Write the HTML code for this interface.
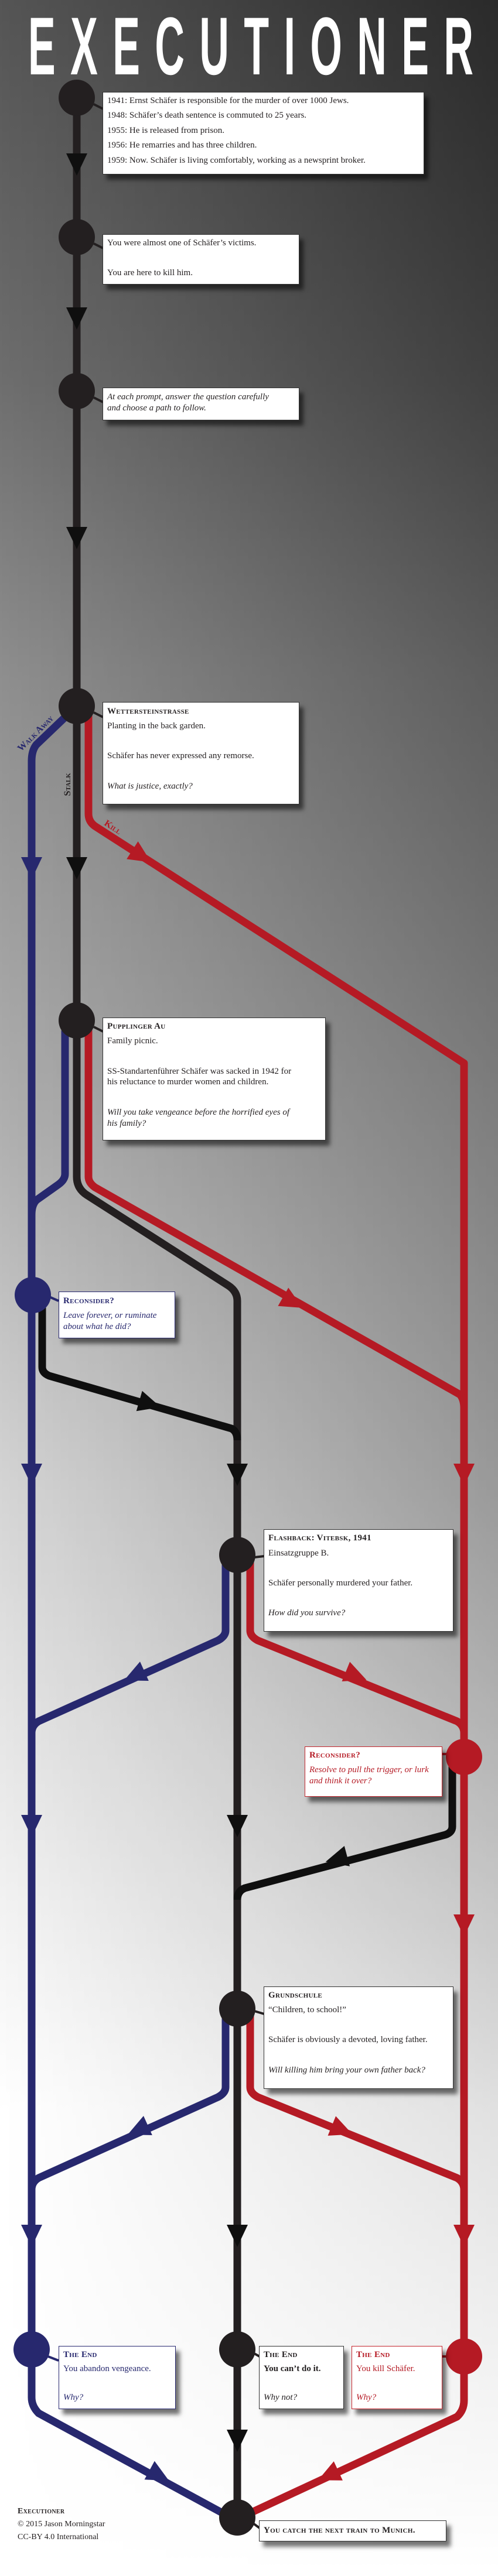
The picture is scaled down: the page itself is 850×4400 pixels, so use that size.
<!DOCTYPE html>
<html><head><meta charset="utf-8"><style>
html,body{margin:0;padding:0;width:850px;height:4400px;overflow:hidden}
body{position:relative;font-family:"Liberation Serif",serif;color:#231f20}
svg{position:absolute;left:0;top:0}
.b{position:absolute;background:#fff;border:1.5px solid #333;box-shadow:7px 9px 7px rgba(0,0,0,.55);box-sizing:border-box}
.b div{position:absolute;left:7px;white-space:nowrap;font-size:15px;line-height:20px}
.h{font-variant:small-caps;font-weight:bold;letter-spacing:.3px}
.i{font-style:italic}
.bl{border-color:#2a2a72;color:#27286e}
.rd{border-color:#c4262e;color:#b51a24}
.cr{position:absolute;left:30px;font-size:14px;line-height:20px;white-space:nowrap}
</style></head><body>
<svg width="850" height="4400" viewBox="0 0 850 4400">
<defs>
<linearGradient id="bg" x1="0" y1="0" x2="0" y2="4400" gradientUnits="userSpaceOnUse">
<stop offset="0" stop-color="#555"/><stop offset="0.148" stop-color="#6e6e6e"/><stop offset="0.26" stop-color="#8e8e8e"/><stop offset="0.44" stop-color="#b0b0b0"/><stop offset="0.58" stop-color="#d5d5d5"/><stop offset="0.74" stop-color="#f2f2f2"/><stop offset="0.82" stop-color="#fff"/><stop offset="1" stop-color="#fff"/>
</linearGradient>
<linearGradient id="hz" x1="0" y1="0" x2="850" y2="0" gradientUnits="userSpaceOnUse">
<stop offset="0" stop-color="#000" stop-opacity="0"/><stop offset="1" stop-color="#000" stop-opacity="0.5"/>
</linearGradient>
<linearGradient id="mg" x1="0" y1="0" x2="0" y2="4400" gradientUnits="userSpaceOnUse">
<stop offset="0" stop-color="#fff"/><stop offset="0.26" stop-color="#b3b3b3"/><stop offset="0.44" stop-color="#8c8c8c"/><stop offset="0.58" stop-color="#8c8c8c"/><stop offset="0.74" stop-color="#595959"/><stop offset="0.89" stop-color="#242424"/><stop offset="1" stop-color="#000"/>
</linearGradient>
<mask id="m"><rect width="850" height="4400" fill="url(#mg)"/></mask>
<polygon id="ar" points="-18,-18 18,-18 0,20"/>
</defs>
<rect width="850" height="4400" fill="url(#bg)"/>
<rect width="850" height="4400" fill="url(#hz)" mask="url(#m)"/>
<text x="96" y="127" transform="scale(0.5,1)" font-family="Liberation Sans, sans-serif" font-weight="bold" font-size="140" fill="#fff" textLength="1520" lengthAdjust="spacing">EXECUTIONER</text>

<g fill="none" stroke-width="13" stroke-linejoin="round">
<path stroke="#27286e" d="M131 1206 L62 1272 Q54 1282 54 1300 V4095 Q54 4110 66 4122 L390 4298"/>
<path stroke="#27286e" d="M111 1760 V2005 Q111 2015 100 2023 L62 2050 Q54 2058 54 2075"/>
<path stroke="#27286e" d="M385 2656 V2785 Q385 2795 372 2802 L66 2940 Q54 2947 54 2960"/>
<path stroke="#27286e" d="M385 3431 V3565 Q385 3575 372 3582 L66 3720 Q54 3727 54 3740"/>
<path stroke="#b51a24" d="M151 1206 V1390 Q151 1405 165 1413 L792 1816 V4100 Q792 4117 780 4128 L415 4298"/>
<path stroke="#b51a24" d="M151 1743 V2010 Q151 2020 162 2028 L785 2382 Q792 2390 792 2405"/>
<path stroke="#b51a24" d="M427 2656 V2785 Q427 2795 440 2802 L780 2940 Q792 2947 792 2960"/>
<path stroke="#b51a24" d="M427 3431 V3565 Q427 3575 440 3582 L780 3720 Q792 3727 792 3740"/>
<path stroke="#231f20" d="M131 167 V2010 Q131 2030 148 2041 L390 2196 Q405 2206 405 2222 V4300"/>
<path stroke="#0f0f0f" d="M72 2212 V2335 Q72 2345 84 2350 L395 2440 Q405 2445 405 2460"/>
<path stroke="#0f0f0f" d="M772 3001 V3120 Q772 3130 760 3134 L418 3225 Q405 3230 405 3245"/>
</g>
<g stroke="#231f20" stroke-width="4">
<line x1="160" y1="178" x2="176" y2="186"/>
<line x1="160" y1="416" x2="176" y2="424"/>
<line x1="160" y1="679" x2="176" y2="687"/>
<line x1="160" y1="1217" x2="176" y2="1225"/>
<line x1="160" y1="1754" x2="176" y2="1762"/>
<line x1="434" y1="2660" x2="451" y2="2658"/>
<line x1="434" y1="3435" x2="451" y2="3440"/>
<line x1="434" y1="4020" x2="443" y2="4025"/>
<line x1="432" y1="4310" x2="443" y2="4318"/>
</g>
<line x1="84" y1="2215" x2="100" y2="2222" stroke="#27286e" stroke-width="4"/>
<line x1="82" y1="4025" x2="100" y2="4032" stroke="#27286e" stroke-width="4"/>
<line x1="762" y1="2996" x2="755" y2="2996" stroke="#b51a24" stroke-width="4"/>
<line x1="762" y1="4025" x2="755" y2="4025" stroke="#b51a24" stroke-width="4"/>

<g fill="#0f0f0f">
<use href="#ar" transform="translate(131,280)"/>
<use href="#ar" transform="translate(131,543)"/>
<use href="#ar" transform="translate(131,918)"/>
<use href="#ar" transform="translate(131,1482)"/>
<use href="#ar" transform="translate(405,2518)"/>
<use href="#ar" transform="translate(405,3118)"/>
<use href="#ar" transform="translate(405,3818)"/>
<use href="#ar" transform="translate(405,4168)"/>
<use href="#ar" transform="translate(255,2398) rotate(-73.9)"/>
<use href="#ar" transform="translate(575,3175) rotate(75.1)"/>
</g>
<g fill="#27286e">
<use href="#ar" transform="translate(54,1482)"/>
<use href="#ar" transform="translate(54,2518)"/>
<use href="#ar" transform="translate(54,3118)"/>
<use href="#ar" transform="translate(54,3818)"/>
<use href="#ar" transform="translate(230,2862) rotate(65.7)"/>
<use href="#ar" transform="translate(236,3638) rotate(65.7)"/>
<use href="#ar" transform="translate(271,4228) rotate(-61.5)"/>
</g>
<g fill="#b51a24">
<use href="#ar" transform="translate(241,1462) rotate(-57.3)"/>
<use href="#ar" transform="translate(499,2224) rotate(-60.4)"/>
<use href="#ar" transform="translate(792,2518)"/>
<use href="#ar" transform="translate(607,2862) rotate(-67.9)"/>
<use href="#ar" transform="translate(792,3288)"/>
<use href="#ar" transform="translate(583,3638) rotate(-67.9)"/>
<use href="#ar" transform="translate(792,3818)"/>
<use href="#ar" transform="translate(561,4228) rotate(65.1)"/>
</g>

<g fill="#231f20">
<circle cx="131" cy="167" r="31"/><circle cx="131" cy="405" r="31"/><circle cx="131" cy="668" r="31"/>
<circle cx="131" cy="1206" r="31"/><circle cx="131" cy="1743" r="31"/>
<circle cx="405" cy="2656" r="31"/><circle cx="405" cy="3431" r="31"/>
<circle cx="405" cy="4013" r="31"/><circle cx="405" cy="4300" r="31"/>
</g>
<circle cx="56" cy="2212" r="31" fill="#27286e"/>
<circle cx="54" cy="4013" r="31" fill="#27286e"/>
<circle cx="792" cy="3001" r="31" fill="#b51a24"/>
<circle cx="792" cy="4025" r="31" fill="#b51a24"/>

<g font-family="Liberation Serif, serif" font-weight="bold" font-size="16" style="font-variant:small-caps" text-anchor="middle">
<text transform="translate(64,1256) rotate(-45)" fill="#27286e">Walk Away</text>
<text transform="translate(120,1340) rotate(-90)" fill="#231f20">Stalk</text>
<text transform="translate(190,1417) rotate(33)" fill="#b51a24">Kill</text>
</g>
</svg>

<div class="b" style="left:175px;top:157px;width:549px;height:141px">
<div style="top:4px">1941: Ernst Schäfer is responsible for the murder of over 1000 Jews.</div>
<div style="top:29px">1948: Schäfer’s death sentence is commuted to 25 years.</div>
<div style="top:55px">1955: He is released from prison.</div>
<div style="top:80px">1956: He remarries and has three children.</div>
<div style="top:106px">1959: Now. Schäfer is living comfortably, working as a newsprint broker.</div>
</div>
<div class="b" style="left:175px;top:400px;width:336px;height:86px">
<div style="top:4px">You were almost one of Schäfer’s victims.</div>
<div style="top:55px">You are here to kill him.</div>
</div>
<div class="b" style="left:175px;top:662px;width:336px;height:56px">
<div class="i" style="top:5px">At each prompt, answer the question carefully</div>
<div class="i" style="top:24px">and choose a path to follow.</div>
</div>
<div class="b" style="left:175px;top:1199px;width:336px;height:175px">
<div class="h" style="top:5px">Wettersteinstrasse</div>
<div style="top:30px">Planting in the back garden.</div>
<div style="top:81px">Schäfer has never expressed any remorse.</div>
<div class="i" style="top:133px">What is justice, exactly?</div>
</div>
<div class="b" style="left:175px;top:1738px;width:381px;height:210px">
<div class="h" style="top:4px">Pupplinger Au</div>
<div style="top:29px">Family picnic.</div>
<div style="top:81px">SS-Standartenführer Schäfer was sacked in 1942 for</div>
<div style="top:99px">his reluctance to murder women and children.</div>
<div class="i" style="top:151px">Will you take vengeance before the horrified eyes of</div>
<div class="i" style="top:170px">his family?</div>
</div>
<div class="b bl" style="left:100px;top:2206px;width:199px;height:80px">
<div class="h" style="top:5px">Reconsider?</div>
<div class="i" style="top:30px">Leave forever, or ruminate</div>
<div class="i" style="top:49px">about what he did?</div>
</div>
<div class="b" style="left:450px;top:2612px;width:324px;height:175px">
<div class="h" style="top:4px">Flashback: Vitebsk, 1941</div>
<div style="top:30px">Einsatzgruppe B.</div>
<div style="top:81px">Schäfer personally murdered your father.</div>
<div class="i" style="top:132px">How did you survive?</div>
</div>
<div class="b rd" style="left:520px;top:2983px;width:235px;height:86px">
<div class="h" style="top:4px">Reconsider?</div>
<div class="i" style="top:29px">Resolve to pull the trigger, or lurk</div>
<div class="i" style="top:48px">and think it over?</div>
</div>
<div class="b" style="left:450px;top:3393px;width:324px;height:175px">
<div class="h" style="top:4px">Grundschule</div>
<div style="top:29px">“Children, to school!”</div>
<div style="top:80px">Schäfer is obviously a devoted, loving father.</div>
<div class="i" style="top:132px">Will killing him bring your own father back?</div>
</div>
<div class="b bl" style="left:100px;top:4007px;width:200px;height:108px">
<div class="h" style="top:4px">The End</div>
<div style="top:28px">You abandon vengeance.</div>
<div class="i" style="top:77px">Why?</div>
</div>
<div class="b" style="left:442px;top:4007px;width:145px;height:108px">
<div class="h" style="top:4px">The End</div>
<div style="top:28px;font-weight:bold">You can’t do it.</div>
<div class="i" style="top:77px">Why not?</div>
</div>
<div class="b rd" style="left:600px;top:4007px;width:155px;height:108px">
<div class="h" style="top:4px">The End</div>
<div style="top:28px">You kill Schäfer.</div>
<div class="i" style="top:77px">Why?</div>
</div>
<div class="b" style="left:442px;top:4305px;width:320px;height:36px">
<div class="h" style="top:6px">You catch the next train to Munich.</div>
</div>

<div class="cr h" style="top:4280px">Executioner</div>
<div class="cr" style="top:4302px">© 2015 Jason Morningstar</div>
<div class="cr" style="top:4324px">CC-BY 4.0 International</div>
</body></html>
